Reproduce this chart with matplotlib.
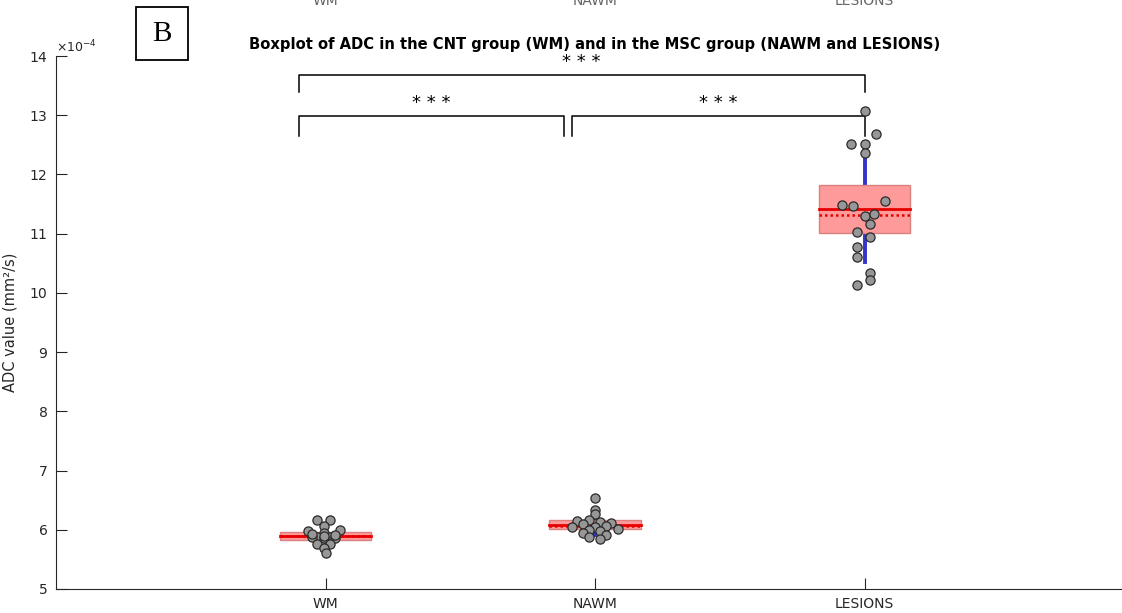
import matplotlib
matplotlib.use('Agg')
import numpy as np
import matplotlib.pyplot as plt
import matplotlib.transforms as mtrans
from matplotlib.patches import Rectangle
from matplotlib.ticker import ScalarFormatter

# ADC values, in units of 1e-4 mm^2/s
groups = ['WM', 'NAWM', 'LESIONS']
scale = 1e-4

wmVals = [6.16, 6.16, 6.06, 5.98, 5.99, 5.95, 5.88, 5.88, 5.88, 5.86, 5.86, 5.76, 5.76, 5.69, 5.61, 5.93, 5.92, 5.90]
wmJit = [-0.03, 0.015, -0.005, -0.065, 0.055, -0.005, -0.03, 0.015, -0.05, 0.035, -0.005, -0.03, 0.015, -0.005, 0.0, -0.05, 0.035, -0.005]

nawmVals = [6.53, 6.33, 6.27, 6.16, 6.14, 6.13, 6.12, 6.10, 6.07, 6.05, 6.04, 6.02, 6.00, 5.98, 5.95, 5.92, 5.88, 5.85]
nawmJit = [0.0, 0.0, 0.0, -0.022, -0.065, 0.02, 0.06, -0.045, 0.04, 0.0, -0.085, 0.085, -0.022, 0.02, -0.045, 0.04, -0.022, 0.02]

lesVals = [13.07, 12.69, 12.51, 12.51, 12.37, 11.49, 11.47, 11.56, 11.29, 11.33, 11.16, 11.02, 10.94, 10.77, 10.60, 10.34, 10.21, 10.14]
lesJit = [0.0, 0.042, -0.049, 0.0, 0.0, -0.084, -0.042, 0.075, 0.0, 0.035, 0.019, -0.026, 0.02, -0.026, -0.026, 0.019, 0.02, -0.026]

allVals = [wmVals, nawmVals, lesVals]
allJit = [wmJit, nawmJit, lesJit]

# significance brackets: span, top level, leg bottom, label
brX0 = [0.90, 0.90, 1.915]
brX1 = [3.00, 1.885, 3.00]
brTop = [13.68, 12.99, 12.99]
brLow = [13.39, 12.65, 12.65]
brText = ['* * *', '* * *', '* * *']

axisColor = '#262626'
boxFace = '#ff9a9a'
boxEdge = '#d98080'
meanColor = '#e60000'
sdColor = '#3333cc'
pointFace = '#979797'
halfW = 0.17

fig = plt.figure(figsize=(11.22, 6.13), dpi=100)
ax = fig.add_axes([56 / 1122, 24 / 613, 1078 / 1122, 533 / 613])

for i, vals in enumerate(allVals):
    pos = i + 1
    v = np.array(vals)
    m = v.mean()
    med = np.median(v)
    sd = v.std(ddof=1)
    ci = 1.96 * sd / np.sqrt(len(v))
    # 1 SD line, 95% CI box, mean and median
    ax.plot([pos, pos], [(m - sd) * scale, (m + sd) * scale], color=sdColor, lw=2.8, zorder=1)
    ax.add_patch(Rectangle((pos - halfW, (m - ci) * scale), 2 * halfW, 2 * ci * scale,
                           facecolor=boxFace, edgecolor=boxEdge, lw=1, zorder=2))
    ax.plot([pos - halfW, pos + halfW], [m * scale, m * scale], color=meanColor, lw=2, zorder=3)
    ax.plot([pos - halfW, pos + halfW], [med * scale, med * scale], color=meanColor, lw=1.8,
            ls=(0, (1, 1.2)), zorder=3)
    ax.plot(pos + np.array(allJit[i]), v * scale, 'o', ms=6.6, mfc=pointFace, mec='#2a2a2a',
            mew=0.9, zorder=4)

# brackets
for x0, x1, yt, yl, t in zip(brX0, brX1, brTop, brLow, brText):
    ax.plot([x0, x0, x1, x1], [yl * scale, yt * scale, yt * scale, yl * scale], color='black', lw=1.1)
    ax.text((x0 + x1) / 2, (yt + 0.22) * scale, t, ha='center', va='center', fontsize=13)

ax.set_xlim(0, 4)
ax.set_ylim(5 * scale, 14 * scale)
ax.set_xticks([1, 2, 3])
ax.set_xticklabels(groups)
ax.set_yticks(np.arange(5, 15) * scale)
fmt = ScalarFormatter(useMathText=True)
fmt.set_powerlimits((-4, -4))
ax.yaxis.set_major_formatter(fmt)
ax.yaxis.get_offset_text().set_fontsize(9)
ax.yaxis.get_offset_text().set_color('#555555')

for s in ['top', 'right']:
    ax.spines[s].set_visible(False)
for s in ['left', 'bottom']:
    ax.spines[s].set_color(axisColor)
    ax.spines[s].set_linewidth(0.8)
ax.tick_params(direction='in', length=8, width=0.8, colors=axisColor, labelsize=10, pad=6)

ax.set_ylabel('ADC value (mm²/s)', fontsize=10.5, color=axisColor)
ax.yaxis.set_label_coords(-0.0355, 0.5)
ax.set_title('Boxplot of ADC in the CNT group (WM) and in the MSC group (NAWM and LESIONS)',
             fontsize=10.6, fontweight='bold', pad=5)

# panel letter
fig.patches.append(Rectangle((136 / 1122, 1 - 60 / 613), 52 / 1122, 53 / 613, transform=fig.transFigure,
                             fill=False, edgecolor='black', lw=1.3))
fig.text(162 / 1122, 1 - 34 / 613, 'B', family='Liberation Serif', fontsize=21, ha='center', va='center')

# labels of the panel above, cut by the figure edge
trans = mtrans.blended_transform_factory(ax.transData, fig.transFigure)
for i, g in enumerate(groups):
    fig.text(i + 1, 1 - 5 / 613, g, transform=trans, ha='center', va='baseline', fontsize=10, color='#666666')

plt.savefig('out.png', dpi=100)
plt.close()
